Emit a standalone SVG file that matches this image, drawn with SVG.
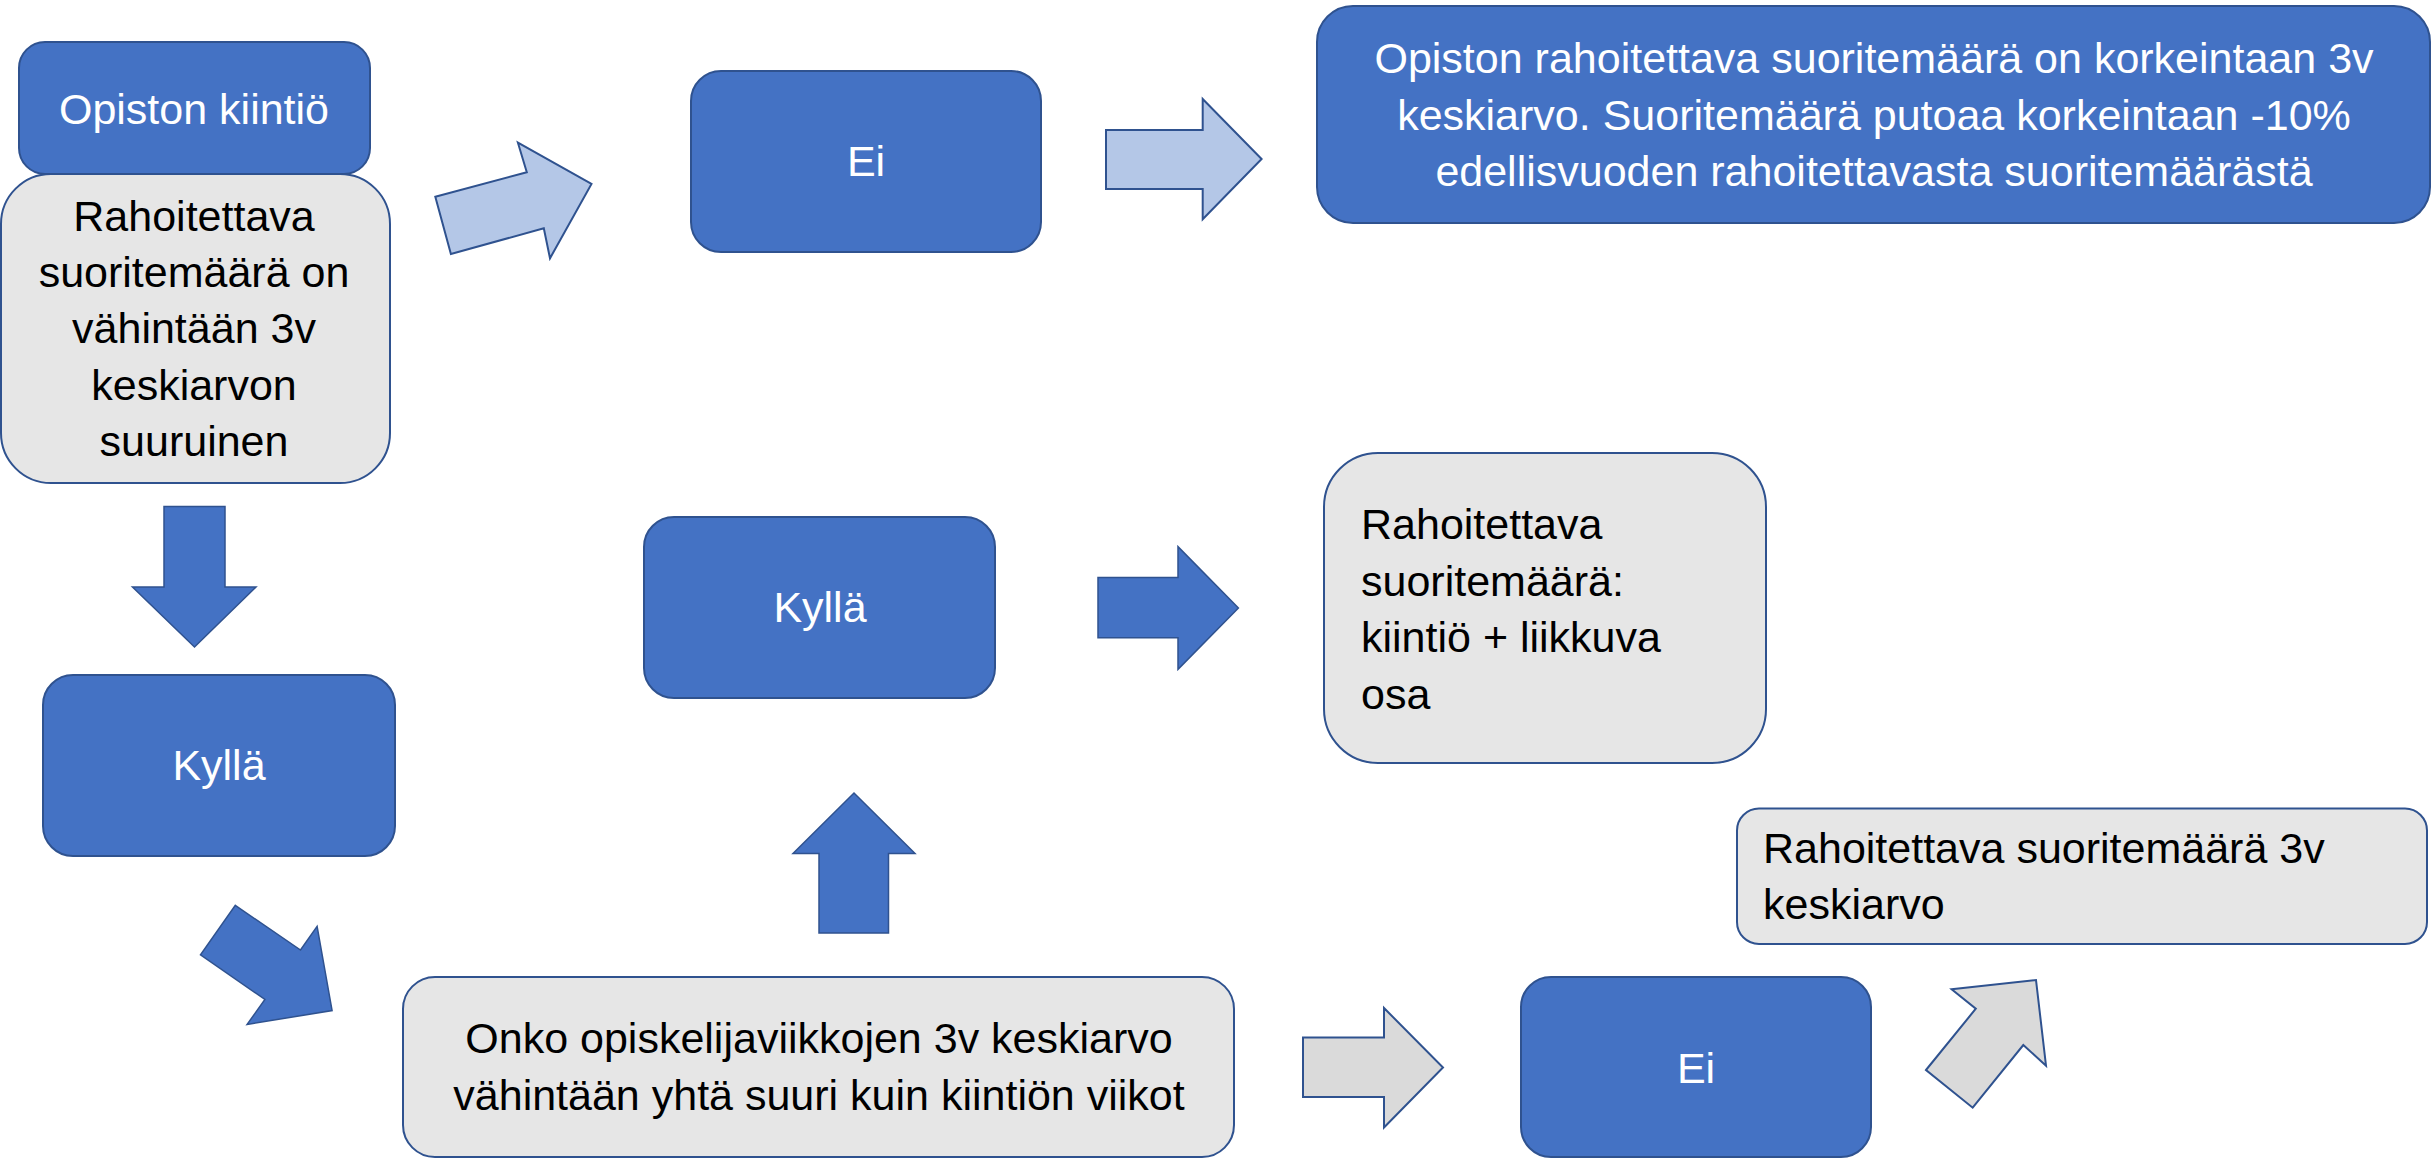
<svg xmlns="http://www.w3.org/2000/svg" width="2433" height="1160" viewBox="0 0 2433 1160">
<style>
.blue{fill:#4472C4;stroke:#2F528F;stroke-width:2}
.gray{fill:#E6E6E6;stroke:#2F528F;stroke-width:2}
.arB{fill:#4472C4;stroke:#2F528F;stroke-width:1.5}
.arL{fill:#B4C7E7;stroke:#2F528F;stroke-width:2}
.arG{fill:#DADADA;stroke:#2F528F;stroke-width:2}
text{font-family:"Liberation Sans",Arial,sans-serif;font-size:43px}
.w{fill:#FFFFFF}
.k{fill:#000000}
.c{text-anchor:middle}
</style>
<rect width="2433" height="1160" fill="#FFFFFF"/>
<g id="connectors">
<polygon class="arL" points="435.3,196.7 526.8,172.3 517.9,142.7 591.5,184 550,258.3 543.8,228.3 450.9,254"/>
<polygon class="arL" points="1106,130 1202.7,130 1202.7,99 1261.6,159 1202.7,219.3 1202.7,189 1106,189"/>
<polygon class="arB" points="164,506.5 225,506.5 225,587 256,587 194.5,647 132.5,587 164,587"/>
<polygon class="arB" points="235.3,905.4 300.5,950 317.1,926.4 332.1,1010.6 247.1,1024.4 264.9,999.5 200.5,954.8"/>
<polygon class="arB" points="819,933 819,853.5 793,853.5 854,793 915,853.5 888.5,853.5 888.5,933"/>
<polygon class="arB" points="1098,577.5 1178,577.5 1178,546.7 1238.4,608 1178,669.3 1178,637.7 1098,637.7"/>
<polygon class="arG" points="1303,1037.5 1384,1037.5 1384,1008 1443,1067.5 1384,1127.5 1384,1097 1303,1097"/>
<polygon class="arG" points="1926,1070 1975.8,1008.7 1951.6,989.3 2036,980 2046,1065.7 2023.3,1045 1972.7,1107.7"/>
</g>
<g id="opiston-kiintio">
<rect class="blue" x="19" y="42" width="351" height="132" rx="26"/>
<text class="w c" x="194" y="124">Opiston kiintiö</text>
</g>
<g id="rahoitettava-vahintaan">
<rect class="gray" x="1" y="174" width="389" height="309" rx="50"/>
<text class="k c" x="194" y="231">Rahoitettava</text>
<text class="k c" x="194" y="287">suoritemäärä on</text>
<text class="k c" x="194" y="343">vähintään 3v</text>
<text class="k c" x="194" y="400">keskiarvon</text>
<text class="k c" x="194" y="456">suuruinen</text>
</g>
<g id="ei-top">
<rect class="blue" x="691" y="71" width="350" height="181" rx="30"/>
<text class="w c" x="866" y="176">Ei</text>
</g>
<g id="korkeintaan">
<rect class="blue" x="1317" y="6" width="1113" height="217" rx="36"/>
<text class="w c" x="1874" y="73">Opiston rahoitettava suoritemäärä on korkeintaan 3v</text>
<text class="w c" x="1874" y="129.5">keskiarvo. Suoritemäärä putoaa korkeintaan -10%</text>
<text class="w c" x="1874" y="186">edellisvuoden rahoitettavasta suoritemäärästä</text>
</g>
<g id="kylla-left">
<rect class="blue" x="43" y="675" width="352" height="181" rx="30"/>
<text class="w c" x="219" y="780">Kyllä</text>
</g>
<g id="kylla-mid">
<rect class="blue" x="644" y="517" width="351" height="181" rx="30"/>
<text class="w c" x="820" y="622">Kyllä</text>
</g>
<g id="kiintio-liikkuva">
<rect class="gray" x="1324" y="453" width="442" height="310" rx="54"/>
<text class="k" x="1361" y="539">Rahoitettava</text>
<text class="k" x="1361" y="595.5">suoritemäärä:</text>
<text class="k" x="1361" y="652">kiintiö + liikkuva</text>
<text class="k" x="1361" y="708.5">osa</text>
</g>
<g id="onko">
<rect class="gray" x="403" y="977" width="831" height="180" rx="32"/>
<text class="k c" x="819" y="1053">Onko opiskelijaviikkojen 3v keskiarvo</text>
<text class="k c" x="819" y="1110">vähintään yhtä suuri kuin kiintiön viikot</text>
</g>
<g id="ei-bottom">
<rect class="blue" x="1521" y="977" width="350" height="180" rx="30"/>
<text class="w c" x="1696" y="1082.5">Ei</text>
</g>
<g id="kolmen-vuoden-keskiarvo">
<rect class="gray" x="1737" y="808.5" width="690" height="135.5" rx="22"/>
<text class="k" x="1763" y="863">Rahoitettava suoritemäärä 3v</text>
<text class="k" x="1763" y="919">keskiarvo</text>
</g>
</svg>
